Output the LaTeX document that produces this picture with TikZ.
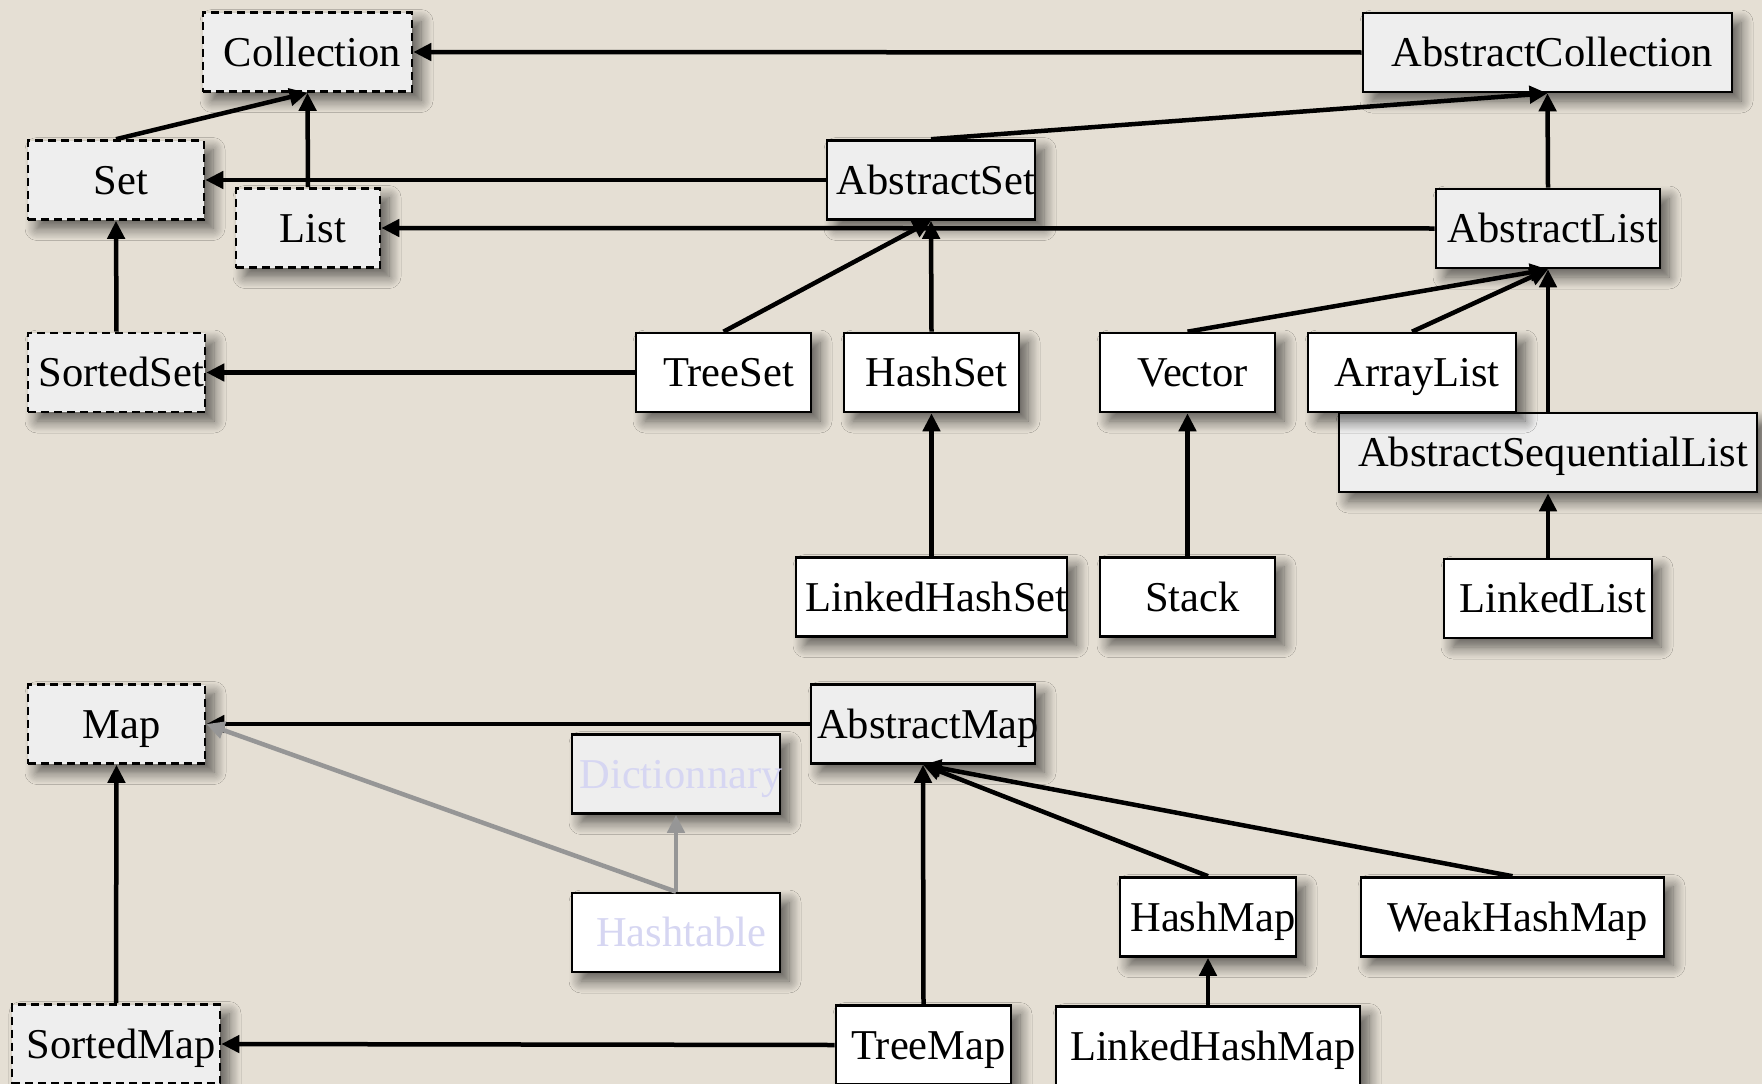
\documentclass[tikz,border=0pt]{standalone}
\usepackage{fontspec}
\setmainfont{Liberation Serif}
\usetikzlibrary{arrows.meta,shadows.blur}
\definecolor{bg}{RGB}{229,223,212}
\definecolor{absfill}{RGB}{238,238,238}
\definecolor{ghost}{RGB}{214,214,242}
\definecolor{arrowgray}{RGB}{150,150,150}
\tikzset{
 box/.style={draw=black, line width=2.6pt, minimum height=79pt, inner sep=0pt,
   blur shadow={shadow xshift=9pt, shadow yshift=-9pt, shadow blur radius=12pt,
     shadow blur steps=10, shadow opacity=60}},
 iface/.style={box, fill=absfill, dash pattern=on 8pt off 5pt},
 abstr/.style={box, fill=absfill},
 concr/.style={box, fill=white},
 lbl/.style={anchor=base, inner sep=0pt, font=\fontsize{42.5}{50}\selectfont, text=black},
 ghostlbl/.style={lbl, text=ghost},
 inh/.style={line width=4.5pt, -{Triangle[length=18pt,width=17pt]}},
 ginh/.style={inh, draw=arrowgray, fill=arrowgray},
}
\newcommand\cls[6]{%
  \node[#1, minimum width=#5pt] (#2) at (#3,#4) {};}
\newcommand\clstext[3]{%
  \node[#1] (#2-t) at ([xshift=5pt,yshift=-14pt]#2.center) {#3};}
\begin{document}
\begin{tikzpicture}[x=1pt,y=-1pt]
\fill[bg] (0,0) rectangle (1762,1084);
\useasboundingbox (0,0) rectangle (1762,1084);
% boxes
\cls{iface}{Collection}{307.5}{52}{209}{}
\cls{abstr}{AbstractCollection}{1547.5}{52.5}{369}{}
\cls{iface}{Set}{116}{180}{176}{}
\cls{iface}{List}{308}{228}{144}{}
\cls{abstr}{AbstractSet}{931}{180}{208}{}
\cls{abstr}{AbstractList}{1548}{228.5}{224}{}
\cls{iface}{SortedSet}{116.5}{372.5}{177}{}
\cls{concr}{TreeSet}{723.5}{372.5}{175}{}
\cls{concr}{HashSet}{931.5}{372.5}{175}{}
\cls{concr}{Vector}{1187.5}{372.5}{175}{}
\cls{abstr}{AbstractSequentialList}{1548}{452.5}{418}{}
\cls{concr}{ArrayList}{1412}{372.5}{208}{}
\cls{concr}{LinkedHashSet}{931.5}{597}{271}{}
\cls{concr}{Stack}{1187.5}{597}{175}{}
\cls{concr}{LinkedList}{1548}{598.5}{208}{}
\cls{iface}{Map}{116.5}{724}{177}{}
\cls{abstr}{AbstractMap}{923}{724}{224}{}
\cls{abstr}{Dictionnary}{676}{774}{208}{}
\cls{concr}{Hashtable}{676}{932.5}{208}{}
\cls{concr}{HashMap}{1208}{917}{176}{}
\cls{concr}{WeakHashMap}{1512.5}{917}{303}{}
\cls{concr}{TreeMap}{923.5}{1045}{175}{}
\cls{concr}{LinkedHashMap}{1208}{1046}{304}{}
\cls{iface}{SortedMap}{116}{1044}{208}{}
% connectors
\draw[inh] (AbstractCollection.west) -- (Collection.east);
\draw[inh] (Set.north) -- (Collection.south);
\draw[inh] (List.north) -- (Collection.south);
\draw[inh] (AbstractSet.west) -- (Set.east);
\draw[inh] (AbstractList.west) -- (List.east);
\draw[inh] (AbstractSet.north) -- (AbstractCollection.south);
\draw[inh] (AbstractList.north) -- (AbstractCollection.south);
\draw[inh] (SortedSet.north) -- (Set.south);
\draw[inh] (TreeSet.west) -- (SortedSet.east);
\draw[inh] (TreeSet.north) -- (AbstractSet.south);
\draw[inh] (HashSet.north) -- (AbstractSet.south);
\draw[inh] (LinkedHashSet.north) -- (HashSet.south);
\draw[inh] (Vector.north) -- (AbstractList.south);
\draw[inh] (ArrayList.north) -- (AbstractList.south);
\draw[inh] (AbstractSequentialList.north) -- (AbstractList.south);
\draw[inh] (LinkedList.north) -- (AbstractSequentialList.south);
\draw[inh] (Stack.north) -- (Vector.south);
\draw[inh] (AbstractMap.west) -- (Map.east);
\draw[ginh] (Hashtable.north) -- (Map.east);
\draw[ginh] (Hashtable.north) -- (Dictionnary.south);
\draw[inh] (SortedMap.north) -- (Map.south);
\draw[inh] (TreeMap.west) -- (SortedMap.east);
\draw[inh] (TreeMap.north) -- (AbstractMap.south);
\draw[inh] (HashMap.north) -- (AbstractMap.south);
\draw[inh] (WeakHashMap.north) -- (AbstractMap.south);
\draw[inh] (LinkedHashMap.north) -- (HashMap.south);
% labels
\clstext{lbl}{Collection}{Collection}
\clstext{lbl}{AbstractCollection}{AbstractCollection}
\clstext{lbl}{Set}{Set}
\clstext{lbl}{List}{List}
\clstext{lbl}{AbstractSet}{AbstractSet}
\clstext{lbl}{AbstractList}{AbstractList}
\clstext{lbl}{SortedSet}{SortedSet}
\clstext{lbl}{TreeSet}{TreeSet}
\clstext{lbl}{HashSet}{HashSet}
\clstext{lbl}{Vector}{Vector}
\clstext{lbl}{AbstractSequentialList}{AbstractSequentialList}
\clstext{lbl}{ArrayList}{ArrayList}
\clstext{lbl}{LinkedHashSet}{LinkedHashSet}
\clstext{lbl}{Stack}{Stack}
\clstext{lbl}{LinkedList}{LinkedList}
\clstext{lbl}{Map}{Map}
\clstext{lbl}{AbstractMap}{AbstractMap}
\clstext{ghostlbl}{Dictionnary}{Dictionnary}
\clstext{ghostlbl}{Hashtable}{Hashtable}
\clstext{lbl}{HashMap}{HashMap}
\clstext{lbl}{WeakHashMap}{WeakHashMap}
\clstext{lbl}{TreeMap}{TreeMap}
\clstext{lbl}{LinkedHashMap}{LinkedHashMap}
\clstext{lbl}{SortedMap}{SortedMap}
\end{tikzpicture}
\end{document}
